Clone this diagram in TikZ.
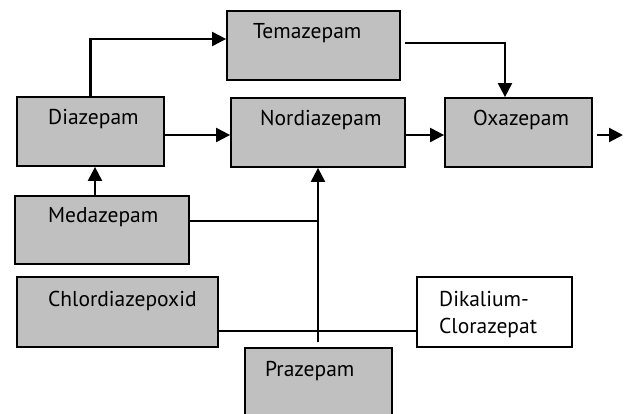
\documentclass[tikz,border=0pt]{standalone}
\usepackage{fontspec}
\setmainfont{PT Sans}
\usetikzlibrary{arrows.meta}
\begin{document}
\begin{tikzpicture}[x=1pt,y=-1pt,
  box/.style={draw,line width=1.8pt,fill=boxgray,minimum width=#1,inner sep=0pt},
  box/.default=147pt,
  lbl/.style={anchor=west,inner sep=0pt,font=\fontsize{21.5}{24}\selectfont,text height=0.72em,text depth=0.2em},
  arr/.style={line width=2.2pt,-{Triangle[length=14pt,width=14pt]}},
  ln/.style={line width=2pt}]
\definecolor{boxgray}{RGB}{192,192,192}
\useasboundingbox (0,0) rectangle (624,414);
% boxes
\node[box=173pt,minimum height=69pt] (tema) at (313.5,45.5) {};
\node[box=147pt,minimum height=69pt] (dia) at (90.5,131.5) {};
\node[box=174pt,minimum height=69pt] (nord) at (318,132.5) {};
\node[box=147pt,minimum height=69pt] (oxa) at (518.5,132.5) {};
\node[box=174pt,minimum height=68pt] (meda) at (102,230) {};
\node[box=201pt,minimum height=70pt] (chlor) at (117.5,312) {};
\node[box=155pt,minimum height=70pt,fill=white] (dika) at (494.5,312) {};
\node[box=147pt,minimum height=72pt] (praz) at (318.5,384) {};
% labels
\node[lbl] (tematext) at (253,36) {Temazepam};
\node[lbl] (diatext) at (48,122) {Diazepam};
\node[lbl] (nordtext) at (260,123) {Nordiazepam};
\node[lbl] (oxatext) at (473,123) {Oxazepam};
\node[lbl] (medatext) at (48,220) {Medazepam};
\node[lbl] (chlortext) at (48,304) {Chlordiazepoxid};
\node[lbl] (dikatext) at (439,304) {Dikalium-};
\begin{scope}
\clip (420,280) rectangle (570,338);
\node[lbl] (dikatext2) at (439,331) {Clorazepat};
\end{scope}
\node[lbl] (praztext) at (265,374) {Prazepam};
% connectors
\coordinate (out) at (623,135);
\draw[arr] (dia.north) |- ([yshift=6.5pt]tema.west);
\draw[arr] ([yshift=-3.5pt]dia.east) -- ([yshift=-3.5pt]dia.east -| nord.west);
\draw[arr] ([yshift=-2.5pt]nord.east) -- ([yshift=-2.5pt]nord.east -| oxa.west);
\draw[arr] ([xshift=4pt,yshift=-2.5pt]oxa.east) -- (out);
\draw[arr] ([xshift=4pt,yshift=2.5pt]tema.east) -| ([xshift=-13.5pt]oxa.north);
\draw[arr] ([xshift=-7pt]meda.north) -- ([xshift=-7pt]meda.north |- dia.south);
\draw[ln] ([yshift=9pt]meda.east) -- ([yshift=9pt]meda.east -| nord.south);
\draw[line width=1.5pt] ([yshift=5pt]praz.north -| nord.south) -- ([yshift=-19pt]chlor.east -| nord.south);
\draw[arr] ([yshift=-19pt]chlor.east -| nord.south) -- (nord.south);
\draw[ln] ([yshift=-19pt]chlor.east) -- ([yshift=-19pt]chlor.east -| dika.west);
\end{tikzpicture}
\end{document}
